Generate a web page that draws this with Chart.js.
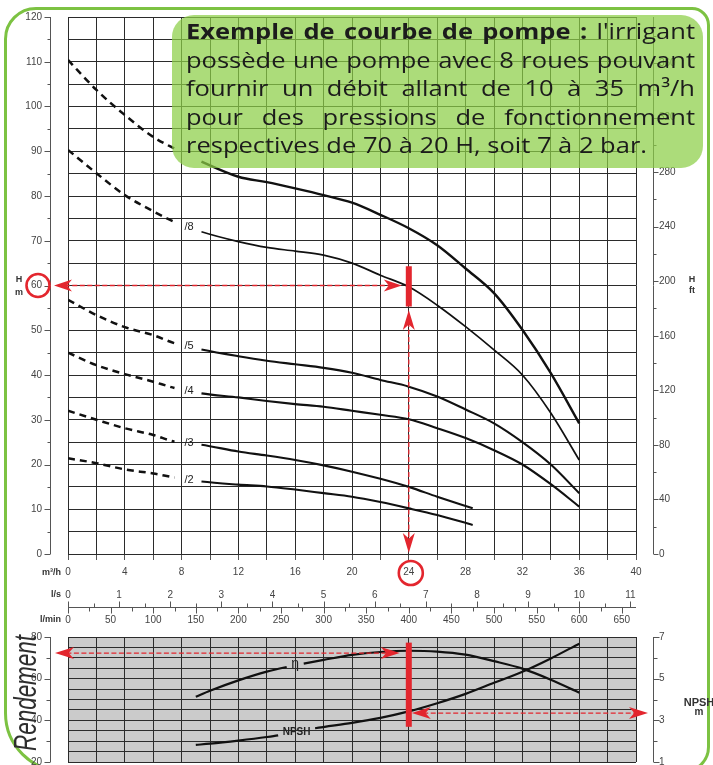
<!DOCTYPE html>
<html lang="fr"><head><meta charset="utf-8"><title>Courbe de pompe</title>
<script src="https://cdn.jsdelivr.net/npm/chart.js@4.4.1/dist/chart.umd.min.js"></script>
<style>
html,body{margin:0;padding:0;background:#fff;overflow:hidden;}
body{width:713px;height:765px;position:relative;}
#frame{position:absolute;left:4px;top:7px;width:706px;height:766px;border:3px solid #7cc242;border-radius:32px 18px 26px 60px;box-sizing:border-box;}
canvas{position:absolute;left:0;}
#c1{top:0;}
#c2{top:625px;}
</style></head><body>
<div id="frame"></div>
<canvas id="c1" width="713" height="630"></canvas>
<canvas id="c2" width="713" height="150"></canvas>
<script>
// ---------- data ----------
const Q_LONG  = [0, 2, 4, 6, 7.5, 9.4, 12, 14, 16, 18, 20, 22, 24, 26, 28, 30, 32, 34, 36];
const Q_SHORT = [0, 2, 4, 6, 7.5, 9.4, 12, 14, 16, 18, 20, 22, 24, 26, 28.5];
const H_10 = [110.4, 103.7, 98.1, 93.2, 90.6, 87.7, 84.3, 83.1, 81.7, 80.2, 78.5, 75.8, 72.8, 69, 63.8, 58.3, 50.1, 40.4, 29.2];
const H_8  = [90.3, 85.1, 80.2, 76.6, 74.2, 72, 69.8, 68.5, 67.7, 66.8, 65, 62.3, 59.7, 55.6, 50.8, 45.6, 40, 31.5, 21];
const H_5  = [56.8, 53.4, 50.7, 48.9, 47.1, 45.7, 44.2, 43.2, 42.4, 41.6, 40.5, 38.9, 37.4, 35.2, 32.3, 29.2, 25, 20, 13.6];
const H_4  = [45, 42.2, 40.2, 38.5, 37.1, 35.9, 35, 34.2, 33.5, 32.9, 32, 31.1, 30.1, 28.1, 25.9, 23.2, 20, 15.6, 10.6];
const H_3  = [32, 30, 28.1, 26.6, 25.1, 24.4, 22.9, 22, 21, 19.8, 18.4, 16.8, 15, 12.8, 10.2];
const H_2  = [21.4, 20.3, 18.9, 18, 17.1, 16.2, 15.5, 15.1, 14.4, 13.6, 12.8, 11.6, 10.2, 8.7, 6.5];
const STAGE_NAMES = ['', '/8', '/5', '/4', '/3', '/2'];

const Q_EFF = [9, 10, 12, 14, 15.4, 16.6, 18, 20, 22, 24, 26, 28, 30, 32, 34, 36];
const ETA   = [51.3, 54.2, 59.2, 63.4, 65.6, 67.2, 69, 71.4, 72.8, 73.4, 73, 71.5, 68.4, 64.8, 59.5, 53.3];
const Q_NPSH = [9, 10, 12, 14, 14.8, 17.4, 20, 22, 24, 26, 28, 30, 32, 34, 36];
const NPSH   = [1.82, 1.88, 2.03, 2.2, 2.28, 2.62, 2.88, 3.12, 3.43, 3.82, 4.27, 4.8, 5.33, 5.97, 6.68];

const Q_LABELS    = [0, 4, 8, 12, 16, 20, 24, 28, 32, 36, 40];
const LS_LABELS   = [0, 1, 2, 3, 4, 5, 6, 7, 8, 9, 10, 11];
const LMIN_LABELS = [0, 50, 100, 150, 200, 250, 300, 350, 400, 450, 500, 550, 600, 650];
const H_LABELS    = [0, 10, 20, 30, 40, 50, 60, 70, 80, 90, 100, 110, 120];
const FT_LABELS   = [0, 40, 80, 120, 160, 200, 240, 280, 320, 360];
const ETA_LABELS  = [20, 40, 60, 80];
const NPSH_LABELS = [1, 3, 5, 7];

const CALLOUT_LINES = [
  [['Exemple', 1], ['de', 1], ['courbe', 1], ['de', 1], ['pompe', 1], [':', 1], ["l'irrigant", 0]],
  [['possède', 0], ['une', 0], ['pompe', 0], ['avec', 0], ['8', 0], ['roues', 0], ['pouvant', 0]],
  [['fournir', 0], ['un', 0], ['débit', 0], ['allant', 0], ['de', 0], ['10', 0], ['à', 0], ['35', 0], ['m³/h', 0]],
  [['pour', 0], ['des', 0], ['pressions', 0], ['de', 0], ['fonctionnement', 0]],
  [['respectives', 0], ['de', 0], ['70', 0], ['à', 0], ['20', 0], ['H,', 0], ['soit', 0], ['7', 0], ['à', 0], ['2', 0], ['bar.', 0]]
];

// ---------- constants ----------
const FT_PER_M = 3.28084;
const M3H_PER_LS = 3.6;
const M3H_PER_LMIN = 0.06;
const FONT = '"Liberation Sans", Arial, sans-serif';
const GRID = '#2b2b2b';
const RED = '#e3262e';
const AXIS = '#555';

Chart.defaults.font.family = FONT;
Chart.defaults.font.size = 10;
Chart.defaults.color = '#444';
Chart.defaults.animation = false;

function curveDataset(Q, H, name, width) {
  const dashEnd = Q[4], gapEnd = Q[5];
  return {
    data: Q.map((q, i) => ({x: q, y: H[i]})),
    stageName: name,
    borderColor: '#111', borderWidth: width, pointRadius: 0,
    cubicInterpolationMode: 'monotone', fill: false,
    segment: {
      borderColor: c => (c.p0.parsed.x >= dashEnd - 1e-9 && c.p1.parsed.x <= gapEnd + 1e-9) ? 'rgba(0,0,0,0)' : undefined,
      borderDash: c => (c.p1.parsed.x <= dashEnd + 1e-9) ? [7, 5] : undefined,
      borderWidth: c => (c.p1.parsed.x <= dashEnd + 1e-9) ? 2.5 : undefined
    }
  };
}
function gapDataset(Q, V, gap, axis) {
  return {
    data: Q.map((q, i) => ({x: q, y: V[i]})),
    yAxisID: axis, borderColor: '#111', borderWidth: 2.2, pointRadius: 0,
    cubicInterpolationMode: 'monotone', fill: false,
    segment: {
      borderColor: c => (c.p0.parsed.x >= gap[0] - 1e-9 && c.p1.parsed.x <= gap[1] + 1e-9) ? 'rgba(0,0,0,0)' : undefined
    }
  };
}
const fixV = w => s => { s.width = w; s.paddingTop = 6; s.paddingBottom = 6; };

function line(ctx, x1, y1, x2, y2) { ctx.beginPath(); ctx.moveTo(x1, y1); ctx.lineTo(x2, y2); ctx.stroke(); }
function arrowHead(ctx, x, y, ang, len, half) {
  ctx.save(); ctx.translate(x, y); ctx.rotate(ang);
  ctx.beginPath(); ctx.moveTo(0, 0); ctx.lineTo(-len, -half); ctx.lineTo(-len * 0.72, 0); ctx.lineTo(-len, half); ctx.closePath();
  ctx.fill(); ctx.restore();
}
function redArrow(ctx, x1, y1, x2, y2, len, half) {
  const ang = Math.atan2(y2 - y1, x2 - x1);
  const c = Math.cos(ang), s = Math.sin(ang);
  ctx.save();
  ctx.strokeStyle = RED; ctx.fillStyle = RED; ctx.lineWidth = 1.3; ctx.setLineDash([5, 2.5]);
  line(ctx, x1 + c * len * 0.6, y1 + s * len * 0.6, x2 - c * len * 0.6, y2 - s * len * 0.6);
  ctx.setLineDash([]);
  arrowHead(ctx, x1, y1, ang + Math.PI, len, half);
  arrowHead(ctx, x2, y2, ang, len, half);
  ctx.restore();
}
function circle(ctx, x, y, r) {
  ctx.save(); ctx.strokeStyle = RED; ctx.lineWidth = 2.6; ctx.beginPath(); ctx.arc(x, y, r, 0, Math.PI * 2); ctx.stroke(); ctx.restore();
}
function text(ctx, str, x, y, font, align, color) {
  ctx.save(); ctx.font = font; ctx.textAlign = align || 'center'; ctx.textBaseline = 'middle';
  ctx.fillStyle = color || '#333'; ctx.fillText(str, x, y); ctx.restore();
}

function drawCallout(ctx) {
  const bx = 172, by = 15, bw = 531, bh = 153;
  ctx.save();
  ctx.fillStyle = 'rgba(140, 207, 70, 0.72)';
  ctx.beginPath(); ctx.roundRect(bx, by, bw, bh, 22); ctx.fill();
  const fam = '"Open Sans", "Noto Sans", sans-serif';
  const left = 186, right = 695, base0 = 39, lh = 28.5, W = right - left;
  const fs = 22;
  const fontOf = b => (b ? 'bold ' : '') + fs + 'px ' + fam;
  ctx.font = fontOf(0);
  const w5 = ctx.measureText(CALLOUT_LINES[4].map(w => w[0]).join(' ')).width;
  const sx = Math.max(1, Math.min(1.25, 461 / w5));
  const space = ctx.measureText(' ').width;
  ctx.fillStyle = '#1c1c1c'; ctx.textBaseline = 'alphabetic'; ctx.textAlign = 'left';
  CALLOUT_LINES.forEach((words, li) => {
    const widths = words.map(w => { ctx.font = fontOf(w[1]); return ctx.measureText(w[0]).width; });
    const sum = widths.reduce((a, b) => a + b, 0);
    const last = li === CALLOUT_LINES.length - 1;
    let sxl = sx, gap = space * sx;
    if (!last) {
      sxl = Math.min(sx, (W - 5 * (words.length - 1)) / sum);
      gap = (W - sum * sxl) / (words.length - 1);
    }
    let x = left;
    const y = base0 + li * lh;
    words.forEach((w, i) => {
      ctx.save(); ctx.font = fontOf(w[1]); ctx.translate(x, y); ctx.scale(sxl, 1);
      ctx.fillText(w[0], 0, 0); ctx.restore();
      x += widths[i] * sxl + gap;
    });
  });
  ctx.restore();
}

// ---------- chart 1 : H(Q) curves ----------
const deco1 = {
  id: 'deco1',
  afterDatasetsDraw(chart) {
    const {ctx, scales: {x, y}} = chart;
    chart.data.datasets.forEach(d => {
      if (!d.stageName) return;
      const p0 = d.data[4], p1 = d.data[5];
      text(ctx, d.stageName, x.getPixelForValue((p0.x + p1.x) / 2) + 1, y.getPixelForValue((p0.y + p1.y) / 2),
           '11px ' + FONT, 'center', '#222');
    });
  },
  afterDraw(chart) {
    const {ctx, scales: {x, y}} = chart;
    ctx.save();
    ctx.strokeStyle = AXIS; ctx.lineWidth = 1;
    const L = 50.5, R = 653.5;
    line(ctx, L, y.getPixelForValue(0), L, y.getPixelForValue(120));
    for (let v = 0; v <= 120; v += 5) {
      const py = Math.round(y.getPixelForValue(v)) + 0.5;
      line(ctx, L - (v % 10 === 0 ? 6 : 3), py, L, py);
    }
    line(ctx, R, y.getPixelForValue(0), R, y.getPixelForValue(120));
    for (let f = 0; f <= 120 * FT_PER_M; f += 20) {
      const py = Math.round(y.getPixelForValue(f / FT_PER_M)) + 0.5;
      line(ctx, R, py, R + (f % 40 === 0 ? 5 : 3), py);
    }
    const yl = 607.5;
    line(ctx, x.getPixelForValue(0), yl, x.getPixelForValue(40), yl);
    for (let s = 0; s <= 11; s += 0.5) {
      const px = Math.round(x.getPixelForValue(s * M3H_PER_LS)) + 0.5;
      line(ctx, px, yl - (s % 1 === 0 ? 6 : 4), px, yl);
    }
    for (let m = 0; m <= 650; m += 25) {
      const px = Math.round(x.getPixelForValue(m * M3H_PER_LMIN)) + 0.5;
      line(ctx, px, yl, px, yl + (m % 50 === 0 ? 6 : 4));
    }
    ctx.restore();
    LS_LABELS.forEach(v => text(ctx, String(v), x.getPixelForValue(v * M3H_PER_LS), 595, '10px ' + FONT, 'center', '#444'));
    LMIN_LABELS.forEach(v => text(ctx, String(v), x.getPixelForValue(v * M3H_PER_LMIN), 620, '10px ' + FONT, 'center', '#444'));
    const tf = 'bold 9px ' + FONT;
    text(ctx, 'm³/h', 61, 573, tf, 'right');
    text(ctx, 'l/s', 61, 595, tf, 'right');
    text(ctx, 'l/min', 61, 620, tf, 'right');
    text(ctx, 'H', 19, 280, tf); text(ctx, 'm', 19, 293, tf);
    text(ctx, 'H', 692, 280, tf); text(ctx, 'ft', 692, 291, tf);
    const x24 = x.getPixelForValue(24);
    const y60 = y.getPixelForValue(60);
    redArrow(ctx, 54, y60, x24 - 7, y60, 18, 6);
    redArrow(ctx, x24, y.getPixelForValue(54.5), x24, y.getPixelForValue(0) - 1, 20, 6);
    ctx.save(); ctx.fillStyle = RED;
    const yt = y.getPixelForValue(64.3), yb = y.getPixelForValue(55.3);
    ctx.fillRect(x24 - 3, yt, 6, yb - yt); ctx.restore();
    circle(ctx, 38, y60, 11.5);
    circle(ctx, x24 + 2, 573, 12);
    drawCallout(ctx);
  }
};

const CURVES = [
  curveDataset(Q_LONG, H_10, STAGE_NAMES[0], 2.4),
  curveDataset(Q_LONG, H_8, STAGE_NAMES[1], 1.7),
  curveDataset(Q_LONG, H_5, STAGE_NAMES[2], 2.1),
  curveDataset(Q_LONG, H_4, STAGE_NAMES[3], 2.1),
  curveDataset(Q_SHORT, H_3, STAGE_NAMES[4], 2.1),
  curveDataset(Q_SHORT, H_2, STAGE_NAMES[5], 2.1)
];

new Chart(document.getElementById('c1'), {
  type: 'line',
  data: {datasets: CURVES},
  plugins: [deco1],
  options: {
    responsive: false, devicePixelRatio: 1,
    layout: {padding: {top: 17, right: 0, bottom: 0, left: 0}},
    plugins: {legend: {display: false}, tooltip: {enabled: false}},
    scales: {
      x: {
        type: 'linear', min: 0, max: 40, position: 'bottom',
        afterFit: s => { s.height = 76; },
        ticks: {stepSize: 2, autoSkip: false, maxRotation: 0, padding: 6, color: '#444',
                callback: v => Q_LABELS.includes(v) ? String(v) : ''},
        grid: {color: GRID, lineWidth: 1, tickLength: 6, tickColor: AXIS},
        border: {display: false}
      },
      y: {
        type: 'linear', min: 0, max: 120, position: 'left',
        afterFit: fixV(68),
        ticks: {stepSize: 5, autoSkip: false, padding: 26, color: '#444',
                callback: v => H_LABELS.includes(v) ? String(v) : ''},
        grid: {color: GRID, lineWidth: 1, drawTicks: false},
        border: {display: false}
      },
      y2: {
        type: 'linear', min: 0, max: 120 * FT_PER_M, position: 'right',
        afterFit: fixV(77),
        ticks: {stepSize: 20, autoSkip: false, padding: 23, color: '#444',
                callback: v => FT_LABELS.includes(v) ? String(v) : ''},
        grid: {display: false, drawTicks: false},
        border: {display: false}
      }
    }
  }
});

// ---------- chart 2 : efficiency & NPSH ----------
const ETA_GAP = [Q_EFF[4], Q_EFF[5]];
const NPSH_GAP = [Q_NPSH[4], Q_NPSH[5]];
const deco2 = {
  id: 'deco2',
  beforeDraw(chart) {
    const {ctx, chartArea: a} = chart;
    ctx.save(); ctx.fillStyle = '#cbcbcb'; ctx.fillRect(a.left, a.top, a.right - a.left, a.bottom - a.top); ctx.restore();
  },
  afterDatasetsDraw(chart) {
    const {ctx, scales: {x, y, y2}} = chart;
    text(ctx, 'η', x.getPixelForValue((ETA_GAP[0] + ETA_GAP[1]) / 2), y.getPixelForValue((ETA[4] + ETA[5]) / 2) - 1,
         '14px ' + FONT, 'center', '#222');
    text(ctx, 'NPSH', x.getPixelForValue((NPSH_GAP[0] + NPSH_GAP[1]) / 2), y2.getPixelForValue((NPSH[4] + NPSH[5]) / 2),
         'bold 10px ' + FONT, 'center', '#222');
  },
  afterDraw(chart) {
    const {ctx, scales: {x, y, y2}} = chart;
    ctx.save(); ctx.strokeStyle = AXIS; ctx.lineWidth = 1;
    const L = 50.5, R = 653.5;
    line(ctx, L, y.getPixelForValue(20), L, y.getPixelForValue(80));
    for (let v = 20; v <= 80; v += 10) {
      const py = Math.round(y.getPixelForValue(v)) + 0.5;
      line(ctx, L - (v % 20 === 0 ? 6 : 4), py, L, py);
    }
    line(ctx, R, y2.getPixelForValue(1), R, y2.getPixelForValue(7));
    for (let v = 1; v <= 7; v += 1) {
      const py = Math.round(y2.getPixelForValue(v)) + 0.5;
      line(ctx, R, py, R + (v % 2 === 1 ? 6 : 4), py);
    }
    ctx.restore();
    text(ctx, 'NPSH', 699, 78, 'bold 11px ' + FONT, 'center', '#333');
    text(ctx, 'm', 699, 87, 'bold 10px ' + FONT, 'center', '#333');
    ctx.save();
    ctx.translate(36, 68); ctx.rotate(-Math.PI / 2);
    ctx.font = 'italic 31px ' + FONT; ctx.fillStyle = '#2e2e2e'; ctx.textAlign = 'center'; ctx.textBaseline = 'alphabetic';
    ctx.fillText('Rendement', 0, 0, 116);
    ctx.restore();
    const x24 = x.getPixelForValue(24);
    const ye = y.getPixelForValue(72.3);
    redArrow(ctx, 55, ye, x24 - 9, ye, 19, 6);
    const yn = y2.getPixelForValue(3.35);
    redArrow(ctx, x24 + 3, yn, 648, yn, 19, 6);
    ctx.save(); ctx.fillStyle = RED;
    const yt = y.getPixelForValue(77.3), yb = y.getPixelForValue(36.9);
    ctx.fillRect(x24 - 3, yt, 6, yb - yt); ctx.restore();
  }
};

new Chart(document.getElementById('c2'), {
  type: 'line',
  data: {datasets: [gapDataset(Q_EFF, ETA, ETA_GAP, 'y'), gapDataset(Q_NPSH, NPSH, NPSH_GAP, 'y2')]},
  plugins: [deco2],
  options: {
    responsive: false, devicePixelRatio: 1,
    layout: {padding: {top: 12, right: 0, bottom: 13, left: 0}},
    plugins: {legend: {display: false}, tooltip: {enabled: false}},
    scales: {
      x: {
        type: 'linear', min: 0, max: 40, position: 'bottom',
        afterFit: s => { s.height = 0; },
        ticks: {display: false, stepSize: 2},
        grid: {color: GRID, lineWidth: 1, drawTicks: false},
        border: {display: false}
      },
      y: {
        type: 'linear', min: 20, max: 80, position: 'left',
        afterFit: fixV(68),
        ticks: {stepSize: 5, autoSkip: false, padding: 26, color: '#444',
                callback: v => ETA_LABELS.includes(v) ? String(v) : ''},
        grid: {color: GRID, lineWidth: 1, drawTicks: false},
        border: {display: false}
      },
      y2: {
        type: 'linear', min: 1, max: 7, position: 'right',
        afterFit: fixV(77),
        ticks: {stepSize: 0.5, autoSkip: false, padding: 23, color: '#444',
                callback: v => NPSH_LABELS.includes(v) ? String(v) : ''},
        grid: {display: false, drawTicks: false},
        border: {display: false}
      }
    }
  }
});
</script>
</body></html>
